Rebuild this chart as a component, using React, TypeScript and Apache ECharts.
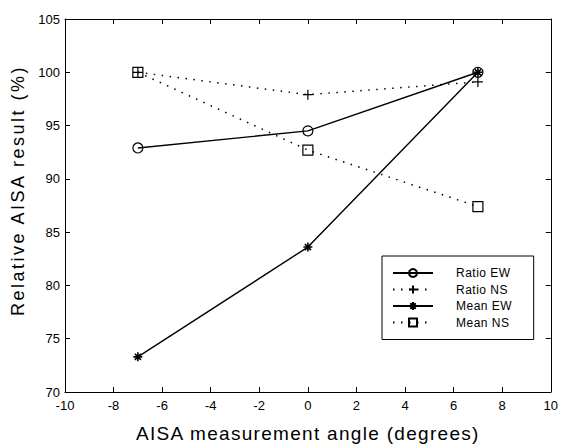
import React, { useEffect, useRef } from 'react';
import * as echarts from 'echarts';

const angles = [-7, 0, 7];
const ratioEW = [92.9, 94.5, 100];
const ratioNS = [100, 97.9, 99.1];
const meanEW = [73.3, 83.6, 100];
const meanNS = [100, 92.7, 87.4];
const seriesNames = ['Ratio EW', 'Ratio NS', 'Mean EW', 'Mean NS'];
const xTitle = 'AISA measurement angle (degrees)';
const yTitle = 'Relative AISA result (%)';

const FONT = '"Liberation Sans", Arial, Helvetica, sans-serif';
const PLUS = 'path://M5,0L5,10M0,5L10,5';
const STAR = 'path://M5,0L5,10M0,5L10,5M1.6,1.6L8.4,8.4M1.6,8.4L8.4,1.6';

function mk(name: string, vals: number[], dotted: boolean, symbol: string, size: number) {
  return {
    name,
    type: 'line',
    data: angles.map((a, i) => [a, vals[i]]),
    symbol,
    symbolSize: size,
    showAllSymbol: true,
    lineStyle: {
      color: '#000',
      width: dotted ? 1.5 : 1.4,
      type: dotted ? [1.5, 6.5] : 'solid',
    },
    itemStyle: { color: 'rgba(0,0,0,0)', borderColor: '#000', borderWidth: symbol === STAR ? 1.6 : 1.2 },
    emphasis: { disabled: true },
    z: 3,
  };
}

const axisCommon = {
  axisLine: { show: true, onZero: false, lineStyle: { color: '#000', width: 1 } },
  axisTick: { show: true, inside: true, length: 5, lineStyle: { color: '#000', width: 1 } },
  splitLine: { show: false },
};

export default function App() {
  const ref = useRef<HTMLDivElement>(null);
  useEffect(() => {
    if (!ref.current) return;
    const chart = echarts.init(ref.current, undefined, { renderer: 'svg' });
    const applySpacing = () => {
      const el = ref.current;
      if (!el) return;
      el.querySelectorAll('text').forEach((t) => {
        const s = t.textContent;
        if (s === xTitle) t.setAttribute('letter-spacing', '1.3');
        else if (s === yTitle) t.setAttribute('letter-spacing', '2.5');
        else if (seriesNames.indexOf(s || '') >= 0) t.setAttribute('letter-spacing', '0.5');
      });
    };
    chart.on('finished', applySpacing);
    chart.setOption({
      animation: false,
      backgroundColor: '#fff',
      grid: { left: 65, right: 8, top: 19, bottom: 47 },
      legend: {
        orient: 'vertical',
        left: 382,
        top: 256,
        padding: [11, 25, 11, 10],
        itemWidth: 40,
        itemHeight: 10,
        itemGap: 4.5,
        backgroundColor: '#fff',
        borderColor: '#000',
        borderWidth: 1,
        borderRadius: 0,
        selectedMode: false,
        data: seriesNames,
        textStyle: { fontSize: 12, color: '#000', fontFamily: FONT, padding: [0, 0, 0, 18] },
      },
      xAxis: [
        {
          type: 'value', min: -10, max: 10, interval: 2, position: 'bottom',
          ...axisCommon,
          axisLabel: { color: '#000', fontSize: 13, margin: 7, fontFamily: FONT },
          name: xTitle, nameLocation: 'middle', nameGap: 32,
          nameTextStyle: { fontSize: 19, color: '#000', fontFamily: FONT },
        },
        {
          type: 'value', min: -10, max: 10, interval: 2, position: 'top',
          ...axisCommon,
          axisLabel: { show: false },
        },
      ],
      yAxis: [
        {
          type: 'value', min: 70, max: 105, interval: 5, position: 'left',
          ...axisCommon,
          axisLabel: { color: '#000', fontSize: 13, margin: 5, fontFamily: FONT },
          name: yTitle, nameLocation: 'middle', nameGap: 31,
          nameTextStyle: { fontSize: 18, color: '#000', fontFamily: FONT, padding: [0, 0, 0, 30] },
        },
        {
          type: 'value', min: 70, max: 105, interval: 5, position: 'right',
          ...axisCommon,
          axisLabel: { show: false },
        },
      ],
      series: [
        mk(seriesNames[0], ratioEW, false, 'circle', 10),
        mk(seriesNames[1], ratioNS, true, PLUS, 10),
        mk(seriesNames[2], meanEW, false, STAR, 9),
        mk(seriesNames[3], meanNS, true, 'rect', 10),
      ],
    });
    applySpacing();
    return () => {
      chart.dispose();
    };
  }, []);
  return (
    <div
      ref={ref}
      style={{ position: 'absolute', left: 0, top: 0, width: 561, height: 448 }}
    />
  );
}
